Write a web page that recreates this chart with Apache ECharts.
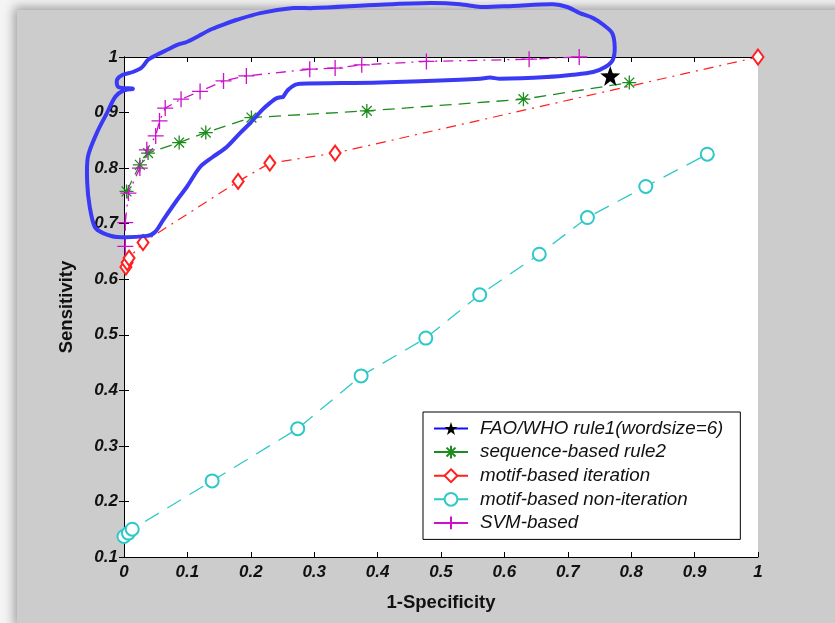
<!DOCTYPE html>
<html>
<head>
<meta charset="utf-8">
<script src="https://cdn.jsdelivr.net/npm/echarts@6/dist/echarts.min.js"></script>
<style>
  body { margin: 0; background: #f4f4f4; }
  #panel { position: absolute; left: 17px; top: 10px; width: 830px; height: 620px; background: #cccccc; box-shadow: -3px -3px 10px rgba(0,0,0,0.35); }
  #container { position: absolute; left: 0; top: 0; width: 835px; height: 623px; }
</style>
</head>
<body>
<div id="panel"></div>
<div id="container"></div>
<script type="text/javascript">
// values
var xTicks = [0, 0.1, 0.2, 0.3, 0.4, 0.5, 0.6, 0.7, 0.8, 0.9, 1];
var yTicks = [0.1, 0.2, 0.3, 0.4, 0.5, 0.6, 0.7, 0.8, 0.9, 1];

var faoX = [0.767];
var faoY = [0.966];

var seqX = [0.004, 0.025, 0.038, 0.087, 0.129, 0.201, 0.383, 0.630, 0.797];
var seqY = [0.758, 0.806, 0.827, 0.846, 0.864, 0.891, 0.903, 0.924, 0.954];

var motifItX = [0.003, 0.005, 0.008, 0.030, 0.180, 0.230, 0.333, 1.0];
var motifItY = [0.622, 0.630, 0.638, 0.666, 0.776, 0.809, 0.827, 1.0];

var motifNonX = [0.0, 0.007, 0.013, 0.139, 0.274, 0.374, 0.476, 0.561, 0.655, 0.731, 0.823, 0.920];
var motifNonY = [0.137, 0.143, 0.150, 0.237, 0.331, 0.426, 0.494, 0.572, 0.645, 0.711, 0.767, 0.825];

var svmX = [0.002, 0.002, 0.007, 0.025, 0.036, 0.050, 0.056, 0.065, 0.090, 0.120, 0.157, 0.193, 0.293, 0.333, 0.375, 0.477, 0.639, 0.718];
var svmY = [0.659, 0.702, 0.755, 0.800, 0.833, 0.858, 0.885, 0.908, 0.924, 0.938, 0.957, 0.966, 0.978, 0.980, 0.986, 0.992, 0.996, 1.0];

// hand drawn blue loop (in axis units)
var loopX = [0.251, 0.259, 0.270, 0.278, 0.404, 0.530, 0.562, 0.577, 0.593, 0.667, 0.708, 0.740, 0.759, 0.771, 0.774, 0.770, 0.756, 0.740, 0.719, 0.699, 0.677, 0.614, 0.562, 0.530, 0.483, 0.404, 0.298, 0.267, 0.215, 0.178, 0.156, 0.136, 0.115, 0.099, 0.084, 0.068, 0.052, 0.038, 0.028, 0.014, -0.002, -0.011, -0.009, 0.014, -0.002, -0.014, -0.027, -0.043, -0.057, -0.058, -0.054, -0.046, -0.033, -0.011, 0.036, 0.049, 0.062, 0.084, 0.099, 0.120, 0.140, 0.162, 0.183, 0.199, 0.218, 0.230, 0.241, 0.251];
var loopY = [0.928, 0.941, 0.950, 0.952, 0.954, 0.959, 0.961, 0.963, 0.961, 0.964, 0.968, 0.973, 0.982, 0.995, 1.018, 1.043, 1.058, 1.070, 1.079, 1.090, 1.095, 1.092, 1.090, 1.095, 1.097, 1.094, 1.088, 1.088, 1.079, 1.067, 1.058, 1.049, 1.036, 1.027, 1.022, 1.013, 1.004, 0.995, 0.981, 0.973, 0.968, 0.959, 0.946, 0.943, 0.939, 0.928, 0.899, 0.863, 0.820, 0.773, 0.730, 0.694, 0.683, 0.676, 0.678, 0.685, 0.707, 0.743, 0.766, 0.802, 0.820, 0.838, 0.863, 0.881, 0.905, 0.917, 0.926, 0.928];

var names = ['FAO/WHO rule1(wordsize=6)', 'sequence-based rule2', 'motif-based iteration', 'motif-based non-iteration', 'SVM-based'];

function zip(xs, ys) {
    var out = [];
    for (var i = 0; i < xs.length; i++) out.push([xs[i], ys[i]]);
    return out;
}

var starPath = 'path://M0,-10L2.35,-3.24L9.51,-3.09L3.8,1.24L5.88,8.09L0,4L-5.88,8.09L-3.8,1.24L-9.51,-3.09L-2.35,-3.24Z';
var asteriskPath = 'path://M0,-1L0,1M-1,0L1,0M-0.7,-0.7L0.7,0.7M-0.7,0.7L0.7,-0.7';
var plusPath = 'path://M0,-1L0,1M-1,0L1,0';

var tickFont = { fontFamily: 'Liberation Sans, Arial', fontStyle: 'italic', fontWeight: 'bold', fontSize: 17, color: '#111' };
var nameFont = { fontFamily: 'Liberation Sans, Arial', fontWeight: 'bold', fontSize: 18.5, color: '#111' };
var fmt = function (v) { return String(+v.toFixed(1)); };

var chart = echarts.init(document.getElementById('container'));
var option = {
    animation: false,
    backgroundColor: 'transparent',
    grid: { left: 124, top: 57, width: 634, height: 500, show: true, backgroundColor: '#fff', borderWidth: 0 },
    xAxis: [
        {
            type: 'value', min: 0, max: 1, interval: 0.1, position: 'bottom',
            name: '1-Specificity', nameLocation: 'middle', nameGap: 36, nameTextStyle: nameFont,
            axisLine: { lineStyle: { color: '#000', width: 1 } },
            axisTick: { inside: true, length: 5, lineStyle: { color: '#000' } },
            axisLabel: Object.assign({ margin: 7, formatter: fmt }, tickFont),
            splitLine: { show: false }
        },
        {
            type: 'value', min: 0, max: 1, interval: 0.1, position: 'top',
            axisLine: { lineStyle: { color: '#000', width: 1 } },
            axisTick: { inside: true, length: 5, lineStyle: { color: '#000' } },
            axisLabel: { show: false }, splitLine: { show: false }
        }
    ],
    yAxis: [
        {
            type: 'value', min: 0.1, max: 1, interval: 0.1, position: 'left',
            name: 'Sensitivity', nameLocation: 'middle', nameGap: 48, nameTextStyle: nameFont,
            axisLine: { lineStyle: { color: '#000', width: 1 } },
            axisTick: { inside: true, length: 5, lineStyle: { color: '#000' } },
            axisLabel: Object.assign({ margin: 6, formatter: fmt }, tickFont),
            splitLine: { show: false }
        },
        {
            type: 'value', min: 0.1, max: 1, interval: 0.1, position: 'right',
            axisLine: { lineStyle: { color: '#000', width: 1 } },
            axisTick: { inside: true, length: 5, lineStyle: { color: '#000' } },
            axisLabel: { show: false }, splitLine: { show: false }
        }
    ],
    legend: {
        data: names,
        orient: 'vertical',
        left: 423, top: 412,
        padding: [7, 17, 7, 10],
        itemWidth: 34, itemHeight: 16, itemGap: 4.6,
        backgroundColor: '#fff',
        borderColor: '#000', borderWidth: 1, borderRadius: 0,
        lineStyle: { type: 'solid' },
        textStyle: { fontFamily: 'Liberation Sans, Arial', fontStyle: 'italic', fontSize: 18.8, color: '#111', padding: [0, 0, 0, 7] }
    },
    series: [
        {
            name: names[0], type: 'line', data: zip(faoX, faoY),
            symbol: starPath, symbolSize: 20,
            itemStyle: { color: '#000' },
            lineStyle: { color: '#1010ff', width: 3 },
            z: 4
        },
        {
            name: names[1], type: 'line', data: zip(seqX, seqY),
            symbol: asteriskPath, symbolSize: 14,
            itemStyle: { color: '#1c8c1c', borderColor: '#1c8c1c', borderWidth: 1.3 },
            lineStyle: { color: '#1c8c1c', width: 1.3, type: [12, 7] }
        },
        {
            name: names[2], type: 'line', data: zip(motifItX, motifItY),
            symbol: 'emptyDiamond', symbolSize: [11, 15],
            itemStyle: { color: '#ff2020', borderColor: '#ff2020', borderWidth: 1.2 },
            lineStyle: { color: '#ff2020', width: 1.2, type: [10, 6, 2, 6] }
        },
        {
            name: names[3], type: 'line', data: zip(motifNonX, motifNonY),
            symbol: 'emptyCircle', symbolSize: 13,
            itemStyle: { color: '#2ec8c8', borderColor: '#2ec8c8', borderWidth: 1.3 },
            lineStyle: { color: '#2ec8c8', width: 1.3, type: [16, 10] }
        },
        {
            name: names[4], type: 'line', data: zip(svmX, svmY),
            symbol: plusPath, symbolSize: 16,
            itemStyle: { color: '#cc10cc', borderColor: '#cc10cc', borderWidth: 1.3 },
            lineStyle: { color: '#cc10cc', width: 1.3, type: [10, 6, 2, 6] }
        }
    ]
};
chart.setOption(option);

// the hand drawn loop goes outside the axes, so map it through the axes and draw it as a graphic
var loopPts = zip(loopX, loopY).map(function (p) {
    return chart.convertToPixel({ xAxisIndex: 0, yAxisIndex: 0 }, p);
});
chart.setOption({
    graphic: [{
        type: 'polyline', silent: true, z: 100,
        shape: { points: loopPts, smooth: 0.3 },
        style: { stroke: '#3a3af5', lineWidth: 4, fill: null, lineJoin: 'round', lineCap: 'round' }
    }]
});
</script>
</body>
</html>
